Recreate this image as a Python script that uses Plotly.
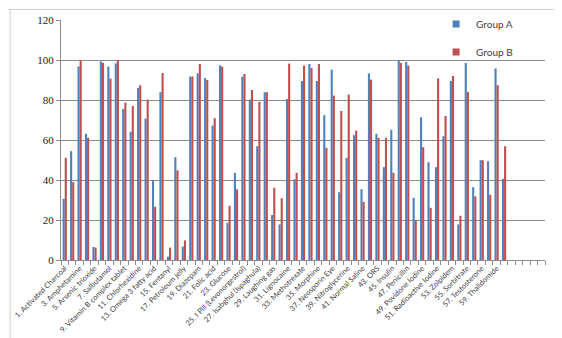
import plotly.graph_objects as go

# Category labels (only odd-numbered categories are labelled on the axis)
odd_labels = [
    "1. Activated Charcoal", "3. Amphetamine", "5. Arsenic trioxide", "7. Salbutamol",
    "9. Vitamin B complex tablet", "11. Chlorhexidine", "13. Omega 3 fatty acid",
    "15. Fentanyl", "17. Petroleum jelly", "19. Diazepam", "21. Folic acid",
    "23. Glucose", "25. I Pill (Levonorgestrol)", "27. Isabghul (Ispaghula)",
    "29. Laughing gas", "31. Lignocaine", "33. Methotrexate", "35. Morphine",
    "37. Neosporin Eye", "39. Nitroglycerine", "41. Normal Saline", "43. ORS",
    "45. Insulin", "47. Penicillin", "49. Povidone Iodine", "51. Radioactive Iodine",
    "53. Zolpidem", "55. Sorbitrate", "57. Testosterone", "59. Thalidomide",
]
n_categories = 65          # axis slots (61-65 are empty)
item_numbers = list(range(1, 61))

group_a = [30.6, 54.4, 96.8, 63.1, 6.5, 99.3, 96.7, 98.3, 75.5, 64.1,
           86.0, 70.7, 39.8, 83.9, 1.7, 51.4, 6.7, 91.7, 93.3, 91.0,
           67.2, 97.3, 18.6, 43.6, 91.7, 80.2, 56.9, 83.9, 22.5, 17.8,
           80.5, 40.4, 89.5, 98.0, 89.5, 72.4, 95.2, 33.9, 51.1, 62.4,
           35.4, 93.3, 63.1, 46.4, 65.1, 99.9, 99.0, 31.1, 71.4, 48.9,
           46.4, 61.9, 89.5, 17.8, 98.5, 36.4, 49.9, 49.4, 95.8, 40.6]
group_b = [51.1, 38.9, 99.7, 61.1, 6.2, 98.5, 90.7, 99.7, 78.7, 77.0,
           87.4, 80.2, 26.6, 93.5, 6.2, 44.8, 9.8, 91.8, 98.0, 90.0,
           70.9, 96.7, 27.1, 35.3, 93.0, 85.0, 79.0, 83.9, 36.1, 30.9,
           98.2, 43.6, 97.2, 96.0, 98.0, 56.1, 82.2, 74.5, 82.7, 64.7,
           29.0, 90.2, 61.1, 61.1, 43.6, 98.5, 97.2, 19.6, 56.4, 26.1,
           90.8, 72.0, 92.0, 22.1, 84.0, 31.8, 49.9, 32.6, 87.4, 56.9]

BLUE = "#4F81BD"
RED = "#C0504D"
GRID = "#8c8c8c"

fig = go.Figure()
fig.add_trace(go.Bar(x=item_numbers, y=group_a, name="Group A", marker_color=BLUE,
                     marker_line_width=0, showlegend=False, legendgroup="a"))
fig.add_trace(go.Bar(x=item_numbers, y=group_b, name="Group B", marker_color=RED,
                     marker_line_width=0, showlegend=False, legendgroup="b"))
# legend entries with small square markers
fig.add_trace(go.Scatter(x=[None], y=[None], mode="markers", name="Group A",
                         marker=dict(symbol="square", size=7, color=BLUE), legendgroup="a"))
fig.add_trace(go.Scatter(x=[None], y=[None], mode="markers", name="Group B",
                         marker=dict(symbol="square", size=7, color=RED), legendgroup="b"))

odd_positions = [int(s.split(".")[0]) for s in odd_labels]

fig.update_layout(
    width=562, height=338,
    margin=dict(l=53, r=25, t=12, b=86, autoexpand=False),
    paper_bgcolor="white", plot_bgcolor="white",
    barmode="group", bargap=0.43, bargroupgap=0,
    font=dict(family="Lato, Liberation Sans, sans-serif", color="#404040"),
    legend=dict(x=0.775, y=1.044, xanchor="left", yanchor="top",
                bgcolor="rgba(0,0,0,0)", font=dict(size=10, color="#404040"),
                tracegroupgap=9, itemwidth=30),
    xaxis=dict(
        range=[0.5, n_categories + 0.5], tickmode="array",
        tickvals=odd_positions, ticktext=odd_labels, tickangle=-45,
        tickfont=dict(size=7.5, color="#404040"), ticks="", automargin=False,
        showgrid=False, zeroline=False, showline=True, linecolor=GRID, linewidth=1,
        minor=dict(tick0=0.5, dtick=1, ticks="outside", ticklen=4,
                   tickcolor=GRID, showgrid=False),
    ),
    yaxis=dict(
        range=[0, 120], dtick=20, automargin=False,
        tickfont=dict(family="Liberation Serif, serif", size=11, color="#222222"),
        ticks="outside", ticklen=4, tickcolor=GRID,
        showgrid=True, gridcolor=GRID, gridwidth=1, zeroline=False,
        showline=True, linecolor=GRID, linewidth=1,
    ),
    shapes=[
        dict(type="line", xref="paper", yref="paper", x0=-0.11, x1=1.06, y0=1.044, y1=1.044,
             line=dict(color="#d0d0d0", width=1)),
        dict(type="line", xref="paper", yref="paper", x0=-0.105, x1=-0.105, y0=1.044, y1=-0.335,
             line=dict(color="#d0d0d0", width=1)),
    ],
)

fig.write_html("out.html")
